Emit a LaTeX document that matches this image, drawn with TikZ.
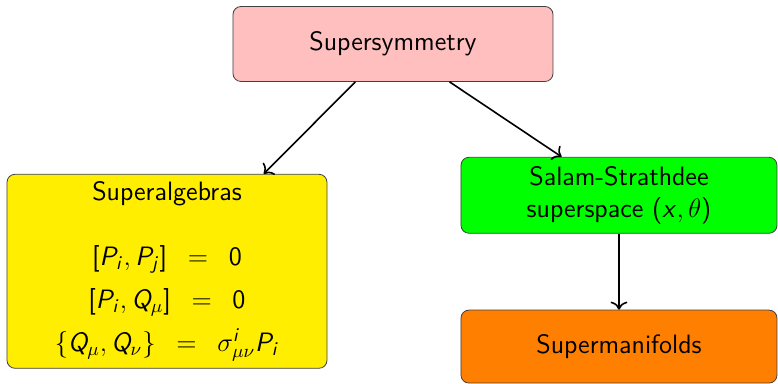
\RequirePackage{fix-cm}
\documentclass[tikz,border=0pt]{standalone}
\usepackage{amsmath}
\usepackage{tikz}
\usetikzlibrary{arrows.meta, positioning, calc}
\definecolor{symred}{RGB}{255,191,191}
\definecolor{algyellow}{RGB}{255,238,0}
\definecolor{spacegreen}{RGB}{0,255,0}
\definecolor{maniorange}{RGB}{255,128,0}
% sans serif letters and digits in math, greek stays as it is
\DeclareSymbolFont{sfletters}{OT1}{cmss}{m}{sl}
\SetSymbolFont{operators}{normal}{OT1}{cmss}{m}{n}
\DeclareMathSymbol{P}{\mathalpha}{sfletters}{`P}
\DeclareMathSymbol{Q}{\mathalpha}{sfletters}{`Q}
\DeclareMathSymbol{x}{\mathalpha}{sfletters}{`x}
\DeclareMathSymbol{i}{\mathalpha}{sfletters}{`i}
\DeclareMathSymbol{j}{\mathalpha}{sfletters}{`j}

\begin{document}
\begin{tikzpicture}[
    >={To[scale=1.2]},
    box/.style={draw=black!75, rounded corners=4pt, minimum width=160pt, align=center,
                font=\sffamily\fontsize{13.3}{16}\selectfont, thin},
]
    \node[box, fill=symred, minimum height=37.5pt] (sym) {Supersymmetry};
    \node[box, fill=algyellow, minimum height=97pt, inner sep=3pt, below=46pt of sym, xshift=-113pt] (alg)
        {Superalgebras\\[16.5pt]
         $[P_i, P_j] \;\:=\;\: 0$\\[5.5pt]
         $[P_i, Q_\mu] \;\:=\;\: 0$\\[5.5pt]
         $\{Q_\mu, Q_\nu\} \;\:=\;\: \sigma^i_{\mu\nu} P_i$};
    \node[box, fill=spacegreen, minimum width=158pt, minimum height=38pt, below=37.5pt of sym, xshift=113pt] (sss)
        {Salam-Strathdee\\superspace $(x,\theta)$};
    \node[box, fill=maniorange, minimum width=158pt, minimum height=36.5pt, below=38pt of sss] (mani) {Supermanifolds};
    \draw[->, thick] (sym) -- (alg);
    \draw[->, thick] (sym) -- (sss);
    \draw[->, thick] (sss) -- (mani);
    \useasboundingbox ($(sym.center)+(-196.5pt,22pt)$) rectangle +(389pt,-191.5pt);
\end{tikzpicture}
\end{document}
